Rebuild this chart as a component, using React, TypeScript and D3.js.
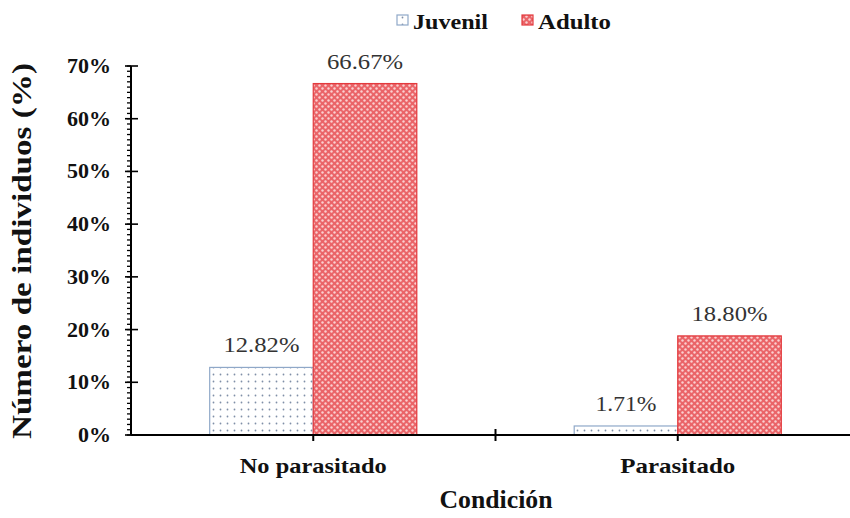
import React from "react";
import * as d3 from "d3";

const categories = ["No parasitado", "Parasitado"];
const seriesNames = ["Juvenil", "Adulto"];
const juvenil = [12.82, 1.71];
const adulto = [66.67, 18.8];
const yTicks = [0, 10, 20, 30, 40, 50, 60, 70];

const W = 850;
const H = 518;
const left = 131;
const right = 860;
const top = 66;
const bottom = 435;

const fontStyle = { fontFamily: '"Liberation Serif"' };

export default function App() {
  const x0 = d3.scaleBand<string>().domain(categories).range([left, right]).paddingInner(0).paddingOuter(0);
  const x1 = d3.scaleBand<string>().domain(seriesNames).range([0, x0.bandwidth()]).paddingInner(0).paddingOuter(0.76);
  const y = d3.scaleLinear().domain([0, 70]).range([bottom, top]);
  const minor = d3.range(0, 71, 1);
  const series = [juvenil, adulto];
  const fills = ["url(#pJuv)", "url(#pAd)"];
  const strokes = ["#8fa8c8", "#e3393c"];
  const catLen = [147, 115];
  const legX = [397, 522];
  const legLen = [75, 73];

  return (
    <svg width={W} height={H} style={{ position: "absolute", left: 0, top: 0, background: "#fff" }}>
      <defs>
        <pattern id="pJuv" width="7" height="7" patternUnits="userSpaceOnUse">
          <rect width="7" height="7" fill="#ffffff" />
          <circle cx="3.5" cy="3.5" r="0.9" fill="#7f8fa8" />
        </pattern>
        <pattern id="pAd" width="6" height="6" patternUnits="userSpaceOnUse">
          <rect width="6" height="6" fill="#ea6468" />
          <circle cx="1.5" cy="1.5" r="1.2" fill="#fbd0d0" />
          <circle cx="4.5" cy="4.5" r="1.2" fill="#fbd0d0" />
        </pattern>
      </defs>

      {/* bars */}
      {categories.map((c, ci) =>
        seriesNames.map((s, si) => {
          const v = series[si][ci];
          const bx = (x0(c) as number) + (x1(s) as number);
          const bw = x1.bandwidth();
          const label = v.toFixed(2) + "%";
          return (
            <g key={c + s}>
              <rect x={bx} y={y(v)} width={bw} height={bottom - y(v)} fill={fills[si]} stroke={strokes[si]} strokeWidth={1.2} />
              <text
                x={bx + bw / 2}
                y={y(v) - 15}
                textAnchor="middle"
                fontSize={22}
                fill="#333"
                style={fontStyle}
                textLength={label.length > 5 ? 76 : 61}
                lengthAdjust="spacingAndGlyphs"
              >
                {label}
              </text>
            </g>
          );
        })
      )}

      {/* y axis */}
      <line x1={left} x2={left} y1={top} y2={bottom} stroke="#000" strokeWidth={2} />
      {minor.map((m) => (
        <line key={"mi" + m} x1={left - 4} x2={left} y1={y(m)} y2={y(m)} stroke="#000" strokeWidth={1.3} />
      ))}
      {yTicks.map((t) => (
        <g key={"t" + t}>
          <line x1={left - 6} x2={left + 7} y1={y(t)} y2={y(t)} stroke="#000" strokeWidth={1.6} />
          <text x={left - 20} y={y(t) + 7} textAnchor="end" fontSize={22} fontWeight="bold" fill="#111" style={fontStyle}>
            {t + "%"}
          </text>
        </g>
      ))}

      {/* x axis */}
      <line x1={left} x2={W} y1={bottom} y2={bottom} stroke="#000" strokeWidth={2.2} />
      {categories.map((c, i) => {
        const cx = (x0(c) as number) + x0.bandwidth() / 2;
        return (
          <g key={"x" + c}>
            <line x1={cx} x2={cx} y1={bottom} y2={bottom + 6} stroke="#000" strokeWidth={2} />
            <text
              x={cx}
              y={bottom + 38}
              textAnchor="middle"
              fontSize={22}
              fontWeight="bold"
              fill="#111"
              style={fontStyle}
              textLength={catLen[i]}
              lengthAdjust="spacingAndGlyphs"
            >
              {c}
            </text>
          </g>
        );
      })}
      <line x1={x0(categories[1]) as number} x2={x0(categories[1]) as number} y1={bottom - 6} y2={bottom + 6} stroke="#000" strokeWidth={2} />

      {/* axis titles */}
      <text x={496} y={508} textAnchor="middle" fontSize={25} fontWeight="bold" fill="#111" style={fontStyle} textLength={113} lengthAdjust="spacingAndGlyphs">
        Condición
      </text>
      <text
        transform={`translate(31,${(62 + 440) / 2}) rotate(-90)`}
        textAnchor="middle"
        fontSize={27}
        fontWeight="bold"
        fill="#111"
        style={fontStyle}
        textLength={376}
        lengthAdjust="spacingAndGlyphs"
      >
        Número de individuos (%)
      </text>

      {/* legend */}
      {seriesNames.map((s, i) => {
        const lx = legX[i];
        return (
          <g key={"lg" + s}>
            <rect x={lx} y={15} width={11} height={10} fill={fills[i]} stroke={strokes[i]} strokeWidth={1.2} />
            <text x={lx + 16} y={29} fontSize={22} fontWeight="bold" fill="#111" style={fontStyle} textLength={legLen[i]} lengthAdjust="spacingAndGlyphs">
              {s}
            </text>
          </g>
        );
      })}
    </svg>
  );
}
